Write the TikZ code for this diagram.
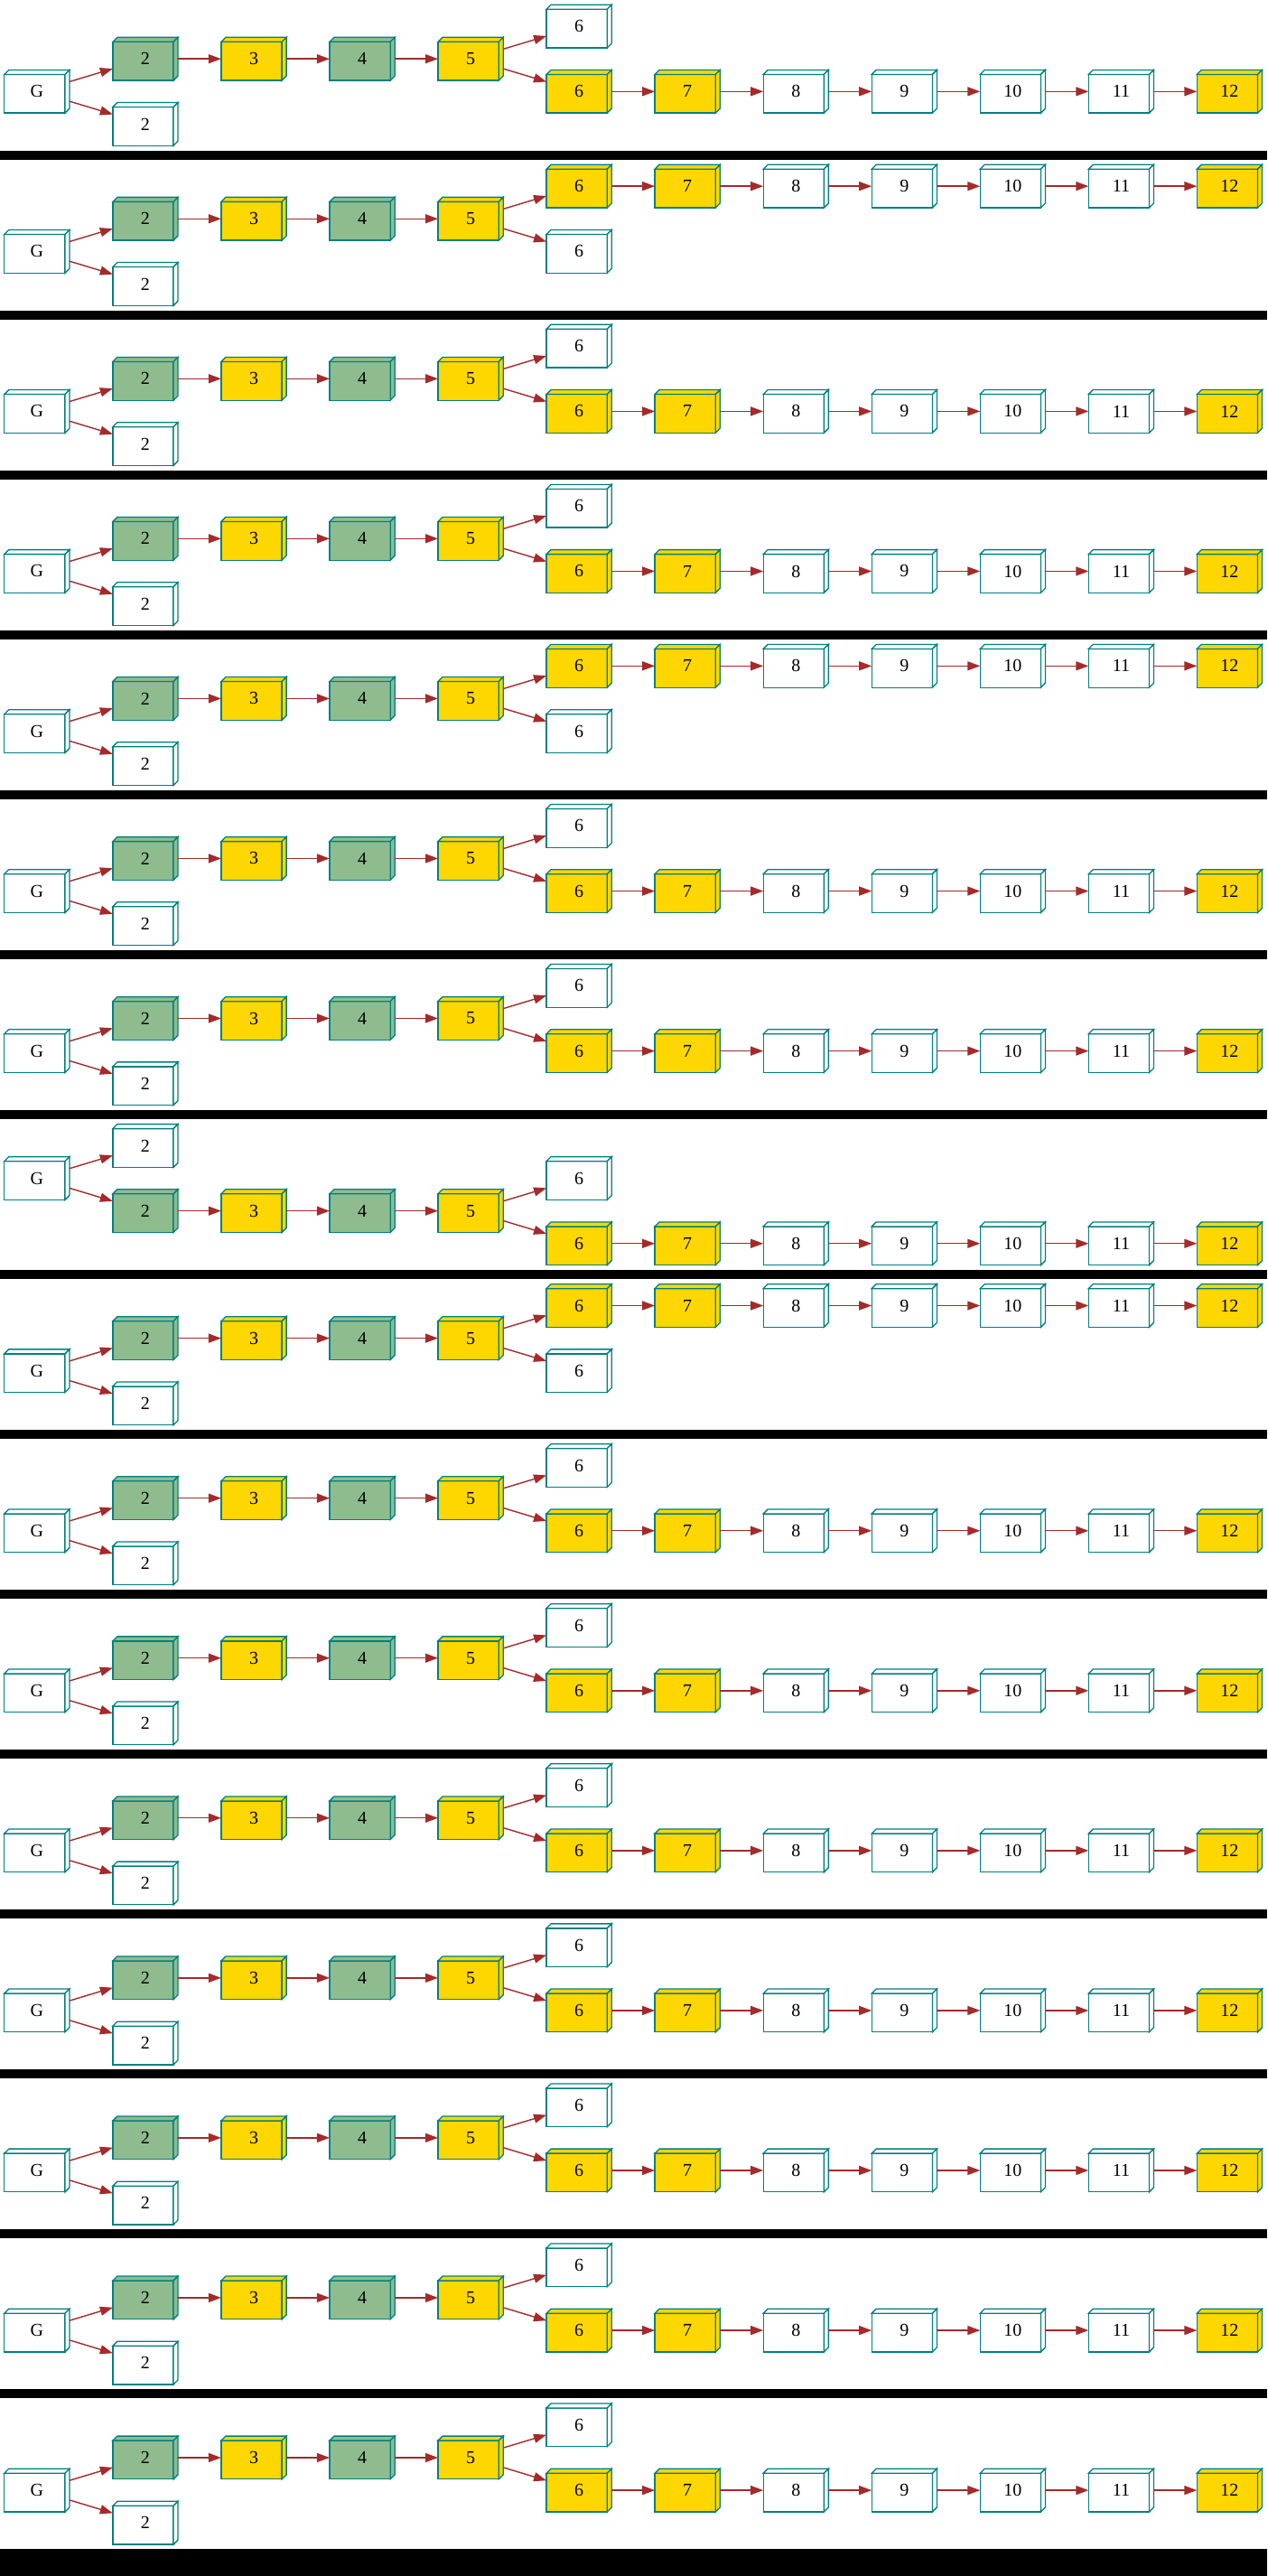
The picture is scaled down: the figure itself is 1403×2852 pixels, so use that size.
\documentclass[tikz,border=0pt]{standalone}
\usepackage{fontspec}
\setmainfont{Liberation Serif}
\usetikzlibrary{arrows.meta}
\definecolor{boxline}{HTML}{008080}
\definecolor{boxgreen}{HTML}{8FBC8F}
\definecolor{boxgold}{HTML}{FFD700}
\definecolor{edgecol}{HTML}{A52A2A}
\tikzset{
  face/.style={draw=boxline, line width=1.3pt, line join=miter, fill=#1},
  cubelabel/.style={rectangle, minimum width=72.2pt, minimum height=47.7pt, inner sep=0pt, outer sep=0pt, font=\fontsize{20}{24}\selectfont},
  link/.style={draw=edgecol, line width=1.4pt, -{Triangle[length=14pt,width=10pt]}},
  sepbar/.style={fill=black},
}
\newcommand\cubenode[5]{%
  \filldraw[face=#4] (#2,#3) ++(-36.1,23.85) rectangle ++(67.2,-42.7);
  \filldraw[face=#4] (#2,#3) ++(-36.1,-18.85) -- ++(5,-5) -- ++(67.2,0) -- ++(-5,5) -- cycle;
  \filldraw[face=#4] (#2,#3) ++(31.1,-18.85) -- ++(5,-5) -- ++(0,42.7) -- ++(-5,5) -- cycle;
  \node[cubelabel] (#1) at (#2,#3) {#5};
}
\begin{document}
\begin{tikzpicture}[x=1pt,y=-1pt]
\useasboundingbox (0,0) rectangle (1403,2852);
\fill[white] (0,0) rectangle (1403,2852);
\foreach \i/\rG/\rW/\rC/\rS/\rY in {0/2/3/1/0/2, 1/2/3/1/2/0, 2/2/3/1/0/2, 3/2/3/1/0/2, 4/2/3/1/2/0, 5/2/3/1/0/2, 6/2/3/1/0/2, 7/1/0/2/1/3, 8/2/3/1/2/0, 9/2/3/1/0/2, 10/2/3/1/0/2, 11/2/3/1/0/2, 12/2/3/1/0/2, 13/2/3/1/0/2, 14/2/3/1/0/2, 15/2/3/1/0/2} {
  \pgfmathsetmacro\off{\i*177.05}
  \pgfmathsetmacro\yG{\off+29.1+36.1*\rG}
  \pgfmathsetmacro\yW{\off+29.1+36.1*\rW}
  \pgfmathsetmacro\yC{\off+29.1+36.1*\rC}
  \pgfmathsetmacro\yS{\off+29.1+36.1*\rS}
  \pgfmathsetmacro\yY{\off+29.1+36.1*\rY}
  \pgfmathsetmacro\yB{\off+166.7}
  \cubenode{G\i}{40.9}{\yG}{white}{G}
  \cubenode{Wtwo\i}{160.95}{\yW}{white}{2}
  \cubenode{Cb\i}{160.95}{\yC}{boxgreen}{2}
  \cubenode{Cc\i}{281}{\yC}{boxgold}{3}
  \cubenode{Cd\i}{401.05}{\yC}{boxgreen}{4}
  \cubenode{Ce\i}{521.1}{\yC}{boxgold}{5}
  \cubenode{Wsix\i}{641.15}{\yS}{white}{6}
  \cubenode{Yf\i}{641.15}{\yY}{boxgold}{6}
  \cubenode{Yg\i}{761.2}{\yY}{boxgold}{7}
  \cubenode{Yh\i}{881.25}{\yY}{white}{8}
  \cubenode{Yi\i}{1001.3}{\yY}{white}{9}
  \cubenode{Yj\i}{1121.35}{\yY}{white}{10}
  \cubenode{Yk\i}{1241.4}{\yY}{white}{11}
  \cubenode{Yl\i}{1361.45}{\yY}{boxgold}{12}
  \draw[link] (G\i) -- (Cb\i);
  \draw[link] (G\i) -- (Wtwo\i);
  \draw[link] (Cb\i) -- (Cc\i);
  \draw[link] (Cc\i) -- (Cd\i);
  \draw[link] (Cd\i) -- (Ce\i);
  \draw[link] (Ce\i) -- (Wsix\i);
  \draw[link] (Ce\i) -- (Yf\i);
  \draw[link] (Yf\i) -- (Yg\i);
  \draw[link] (Yg\i) -- (Yh\i);
  \draw[link] (Yh\i) -- (Yi\i);
  \draw[link] (Yi\i) -- (Yj\i);
  \draw[link] (Yj\i) -- (Yk\i);
  \draw[link] (Yk\i) -- (Yl\i);
  \fill[sepbar] (0,\yB) rectangle (1403,\yB+10);
}
\fill[sepbar] (0,2822.3) rectangle (1403,2852);
\end{tikzpicture}
\end{document}
